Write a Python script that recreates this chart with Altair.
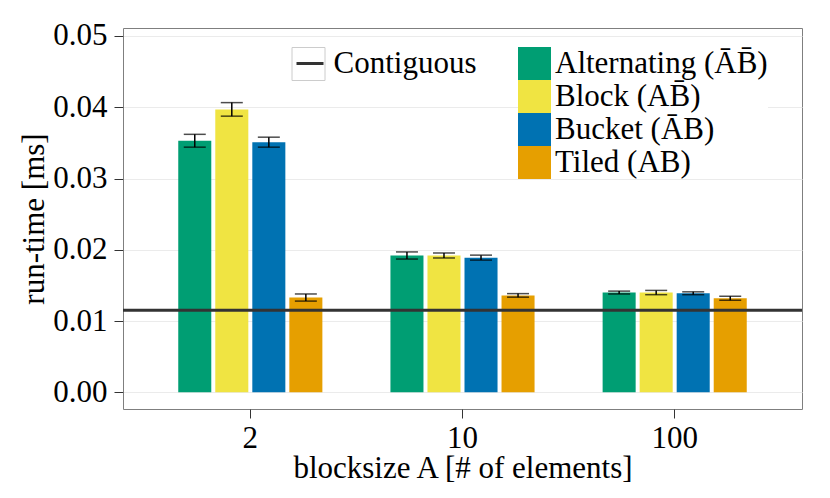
import altair as alt
import pandas as pd

sizes = ["2", "10", "100"]
methods = ["Alternating (ĀB̄)", "Block (AB̄)", "Bucket (ĀB)", "Tiled (AB)"]
colors = ["#009E73", "#F0E442", "#0072B2", "#E69F00"]

alt_mean = [0.0353, 0.0192, 0.0140]
block_mean = [0.0397, 0.0192, 0.0140]
bucket_mean = [0.0351, 0.0189, 0.0139]
tiled_mean = [0.0133, 0.0136, 0.0132]

alt_err = [0.0009, 0.0005, 0.0002]
block_err = [0.00095, 0.00035, 0.0003]
bucket_err = [0.0007, 0.00035, 0.0002]
tiled_err = [0.0005, 0.00025, 0.00028]

contiguous = 0.01151

means = [alt_mean, block_mean, bucket_mean, tiled_mean]
errs = [alt_err, block_err, bucket_err, tiled_err]
rows = []
for m, mv, ev in zip(methods, means, errs):
    for s, v, e in zip(sizes, mv, ev):
        rows.append({"size": s, "method": m, "value": v, "zero": 0.0,
                     "lo": v - e, "hi": v + e})
df = pd.DataFrame(rows)
ref = pd.DataFrame({"ref": ["Contiguous"], "box": ["Contiguous "], "value": [contiguous]})

FONT = "Liberation Serif"
major = "round(datum.value*200)%2==0"

x = alt.X("size:N", sort=sizes,
          scale=alt.Scale(paddingInner=0, paddingOuter=0.1),
          axis=alt.Axis(title="blocksize A [# of elements]", labelAngle=0,
                        bandPosition=0.5, tickSize=9, tickColor="#333333",
                        labelBaseline="alphabetic", labelPadding=29,
                        titleY=68, titleBaseline="alphabetic",
                        gridColor="#ebebeb", domain=False))
xo = alt.XOffset("method:N", sort=methods,
                 scale=alt.Scale(paddingInner=0.108, paddingOuter=0.919))
yscale = alt.Scale(domain=[-0.00234, 0.05112], nice=False, zero=False)
yaxis = alt.Axis(title="run-time [ms]",
                 values=[round(i * 0.005, 3) for i in range(11)],
                 labelExpr=major + " ? format(datum.value, '.2f') : ''",
                 gridColor={"condition": {"test": major, "value": "#ebebeb"}, "value": "#f5f5f5"},
                 tickColor={"condition": {"test": major, "value": "#333333"}, "value": "transparent"},
                 tickSize=9, labelPadding=7, labelOverlap=False,
                 titleX=-80, titleY=190.5, titleAngle=270,
                 titleBaseline="alphabetic", titleAlign="center", domain=False)

base = alt.Chart(df)
bars = base.mark_bar().encode(
    x=x, xOffset=xo,
    y=alt.Y("value:Q", scale=yscale, axis=yaxis),
    y2="zero:Q",
    color=alt.Color("method:N", sort=methods,
                    scale=alt.Scale(domain=methods, range=colors),
                    legend=alt.Legend(orient="none", legendX=395, legendY=19,
                                      title=None, symbolType="square",
                                      symbolSize=1089, symbolStrokeWidth=0,
                                      rowPadding=0, labelOffset=4, padding=0,
                                      fillColor="white", labelFontSize=31,
                                      labelFont=FONT, labelColor="black",
                                      labelLimit=400)),
)
err = base.mark_rule(color="black", strokeWidth=1.5).encode(
    x=alt.X("size:N", sort=sizes), xOffset=xo,
    y=alt.Y("lo:Q", scale=yscale), y2="hi:Q")
cap_lo = base.mark_tick(color="black", thickness=1.5, size=22).encode(
    x=alt.X("size:N", sort=sizes), xOffset=xo, y=alt.Y("lo:Q", scale=yscale))
cap_hi = base.mark_tick(color="black", thickness=1.5, size=22).encode(
    x=alt.X("size:N", sort=sizes), xOffset=xo, y=alt.Y("hi:Q", scale=yscale))
hline = alt.Chart(ref).mark_rule(strokeWidth=3).encode(
    y=alt.Y("value:Q", scale=yscale),
    stroke=alt.Stroke("ref:N", scale=alt.Scale(range=["#333333"]),
                      legend=alt.Legend(orient="none", legendX=171.5, legendY=20,
                                        title=None, symbolType="stroke",
                                        symbolSize=729, symbolStrokeWidth=3,
                                        labelOffset=8, padding=0,
                                        fillColor="white", labelFontSize=31,
                                        labelFont=FONT, labelColor="black")),
)
keybox = alt.Chart(ref).mark_point(opacity=0).encode(
    y=alt.Y("value:Q", scale=yscale),
    shape=alt.Shape("box:N", scale=alt.Scale(range=["square"]),
                    legend=alt.Legend(orient="none", legendX=168.5, legendY=19,
                                      title=None, symbolType="square",
                                      symbolSize=1089, symbolStrokeWidth=1,
                                      symbolStrokeColor="#cccccc",
                                      symbolFillColor="transparent",
                                      symbolOpacity=1, labelExpr="''",
                                      padding=0, labelFontSize=31)),
)

chart = alt.layer(bars, hline, keybox, err, cap_lo, cap_hi).resolve_scale(
    y="shared"
).properties(
    width=679, height=381,
    padding={"left": 115, "top": 20, "right": 20, "bottom": 90},
    autosize=alt.AutoSizeParams(type="none"),
).configure(
    font=FONT
).configure_view(
    stroke="#7f7f7f", strokeWidth=1
).configure_axis(
    labelFont=FONT, titleFont=FONT, labelFontSize=31, titleFontSize=31,
    labelColor="black", titleColor="black", titleFontWeight="normal",
    gridWidth=1,
).configure_legend(
    labelFont=FONT, labelFontSize=31, labelColor="black"
)

chart.save("out.html", embed_options={"renderer": "svg", "actions": False})
